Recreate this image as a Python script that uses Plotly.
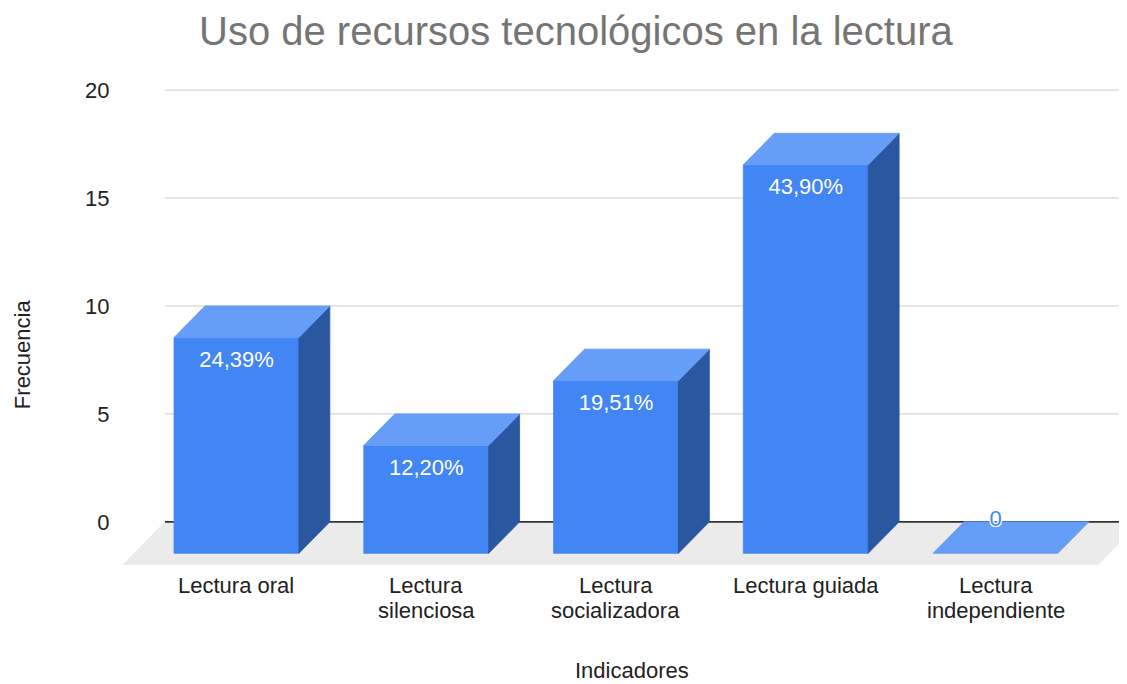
import plotly.graph_objects as go

# ---------------- data ----------------
categories = ["Lectura oral", "Lectura silenciosa", "Lectura socializadora",
              "Lectura guiada", "Lectura independiente"]
tick_labels = ["Lectura oral", "Lectura<br>silenciosa", "Lectura<br>socializadora",
               "Lectura guiada", "Lectura<br>independiente"]
frecuencia = [10, 5, 8, 18, 0]
porcentajes = ["24,39%", "12,20%", "19,51%", "43,90%", "0"]
y_ticks = [0, 5, 10, 15, 20]

# ---------------- style / 3D geometry (in axis units) ----------------
BAR_HALF = 0.329      # half width of the front face
DEPTH_X = 0.163       # 3D depth offset (x)
DEPTH_Y = 1.46        # 3D depth offset (y)
FLOOR_DX = 0.221
FLOOR_DY = 1.99
X_MIN, X_MAX = -0.598, 4.693
Y_MIN, Y_MAX = -2.0, 20.05
FLOOR_RIGHT = 4.54
LABEL_IN = 1.11
LABEL_OUT = 1.51

FRONT = "#4285f4"
TOP = "#669df6"
SIDE = "#2b56a0"
FONT = "Liberation Sans, Arial, sans-serif"

fig = go.Figure()


def poly(xs, ys, color):
    fig.add_trace(go.Scatter(
        x=list(xs) + [xs[0]], y=list(ys) + [ys[0]], mode="lines",
        fill="toself", fillcolor=color, line=dict(width=0.8, color=color),
        hoverinfo="skip", showlegend=False))


def hline(y, x0, x1, color, width):
    fig.add_trace(go.Scatter(x=[x0, x1], y=[y, y], mode="lines",
                             line=dict(color=color, width=width),
                             hoverinfo="skip", showlegend=False))


# floor
fx0 = X_MIN
poly([fx0, FLOOR_RIGHT, FLOOR_RIGHT + FLOOR_DX, fx0 + FLOOR_DX],
     [-FLOOR_DY, -FLOOR_DY, 0, 0], "#ebebeb")

# gridlines
grid_left = X_MIN + FLOOR_DX
for t in y_ticks:
    if t == 0:
        continue
    hline(t, grid_left, X_MAX + 1, "#cccccc", 1)
hline(0, grid_left, X_MAX + 1, "#333333", 1.6)

# bars
in_x, in_y, in_t = [], [], []
out_x, out_y, out_t = [], [], []
for i, (v, lab) in enumerate(zip(frecuencia, porcentajes)):
    xl, xr = i - BAR_HALF, i + BAR_HALF
    yb, yt = -DEPTH_Y, v - DEPTH_Y
    if v > 0:
        poly([xl, xr, xr, xl], [yb, yb, yt, yt], FRONT)
        poly([xr, xr + DEPTH_X, xr + DEPTH_X, xr], [yb, 0, v, yt], SIDE)
        in_x.append(i); in_y.append(yt - LABEL_IN); in_t.append(lab)
    else:
        out_x.append(i); out_y.append(yt + LABEL_OUT); out_t.append(lab)
    poly([xl, xr, xr + DEPTH_X, xl + DEPTH_X], [yt, yt, v, v], TOP)

fig.add_trace(go.Scatter(x=in_x, y=in_y, text=in_t, mode="text",
                         textfont=dict(family=FONT, size=22, color="white"),
                         hoverinfo="skip", showlegend=False))
fig.add_trace(go.Scatter(x=out_x, y=out_y, text=out_t, mode="text",
                         textfont=dict(family=FONT, size=22, color=FRONT,
                                       shadow="white 1px 1px 0px, white -1px -1px 0px, white 1px -1px 0px, white -1px 1px 0px"),
                         hoverinfo="skip", showlegend=False, cliponaxis=False))

# category labels (tight line spacing, one annotation per line)
LINE1_Y = -0.0441
LINE_STEP = 0.0525
annotations = []
for i, lab in enumerate(tick_labels):
    for j, part in enumerate(lab.split("<br>")):
        annotations.append(dict(
            text=part, xref="x", yref="paper", x=i, y=LINE1_Y - j * LINE_STEP,
            xanchor="center", yanchor="middle", showarrow=False,
            font=dict(family=FONT, size=22, color="#222222")))

annotations += [
    dict(text="Uso de recursos tecnológicos en la lectura", xref="paper",
         yref="paper", x=0.4507, y=1.1208, xanchor="center",
         yanchor="middle", showarrow=False,
         font=dict(family=FONT, size=40, color="#757575")),
    dict(text="Indicadores", xref="paper", yref="paper", x=0.507,
         y=-0.2216, xanchor="center", yanchor="middle", showarrow=False,
         font=dict(family=FONT, size=22, color="#222222")),
    dict(text="Frecuencia", xref="paper", yref="paper", x=-0.1006,
         y=0.443, xanchor="center", yanchor="middle", showarrow=False,
         textangle=-90, font=dict(family=FONT, size=22, color="#222222")),
]

# page body has an 8px margin: the figure is sized/offset to fill the window
fig.update_layout(
    width=1119, height=676,
    margin=dict(l=115, r=0, t=81, b=119, autoexpand=False),
    paper_bgcolor="white", plot_bgcolor="white",
    showlegend=False,
    xaxis=dict(range=[X_MIN, X_MAX], tickvals=list(range(len(categories))),
               ticktext=tick_labels, showticklabels=False, showgrid=False,
               zeroline=False, showline=False, ticks=""),
    yaxis=dict(range=[Y_MIN, Y_MAX], tickvals=y_ticks, showgrid=False,
               zeroline=False, showline=False, ticks="outside", ticklen=8,
               tickcolor="rgba(0,0,0,0)",
               tickfont=dict(family=FONT, size=22, color="#222222")),
    annotations=annotations,
)

fig.write_html("out.html")
